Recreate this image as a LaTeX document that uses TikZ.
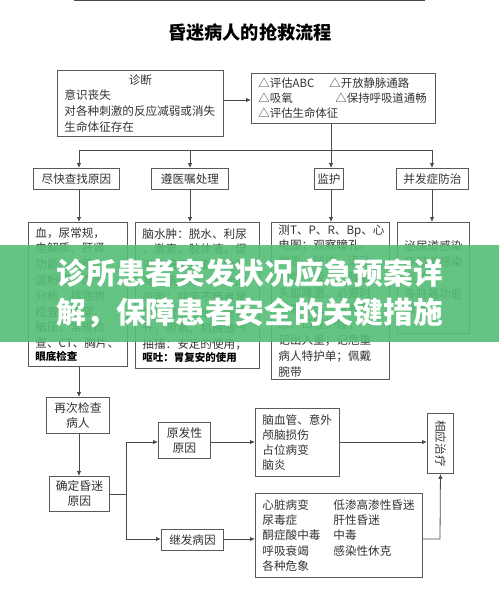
\documentclass[tikz,border=0pt]{standalone}
\usepackage{fontspec}
\usepackage{graphicx}
\usetikzlibrary{arrows.meta}
\newfontfamily\cjk{Noto Sans CJK SC}
\definecolor{linegray}{HTML}{4A4A4A}
\definecolor{boxgray}{HTML}{5A5A5A}
\definecolor{txt}{HTML}{333333}
\definecolor{bannergreen}{HTML}{55BE76}
\tikzset{
  bx/.style={draw=boxgray, line width=0.9pt, fill=white, inner xsep=7pt, inner ysep=0pt,
    text=txt, font=\cjk\fontsize{11.6}{15.8}\selectfont, anchor=north west},
  ln/.style={draw=linegray, line width=0.8pt},
  ar/.style={draw=linegray, line width=0.8pt, -{Latex[length=5pt,width=4.5pt]}},
}
\begin{document}
\begin{tikzpicture}[x=1pt,y=-1pt]
\useasboundingbox (0,0) rectangle (499,589);
\fill[white] (0,0) rectangle (499,589);
\draw[linegray, line width=1.4pt] (74,0.7) -- (425,0.7);

\node[font=\cjk\bfseries\fontsize{18.2}{20}\selectfont, text=black] (title) at (250,33) {昏迷病人的抢救流程};

% top row
\node[bx, minimum width=166pt, minimum height=66pt, text width=152pt, align=left, inner xsep=7pt] (diag) at (57,70)
  {\makebox[152pt]{诊断}\\意识丧失\\对各种刺激的反应减弱或消失\\生命体征存在};
\node[bx, minimum width=184pt, minimum height=50pt, text width=170pt, align=left, font=\cjk\fontsize{11.4}{15}\selectfont] (eval) at (251,73)
  {\makebox[71pt][l]{△评估ABC}△开放静脉通路\\\makebox[77pt][l]{△吸氧}△保持呼吸道通畅\\△评估生命体征};

% second row
\node[bx, minimum width=86pt, minimum height=21pt, align=center] (find) at (33,168) {尽快查找原因};
\node[bx, minimum width=77pt, minimum height=21pt, align=center] (follow) at (151,168) {遵医嘱处理};
\node[bx, minimum width=29pt, minimum height=21pt, inner xsep=0pt, align=center] (monitor) at (314,168) {监护};
\node[bx, minimum width=72pt, minimum height=21pt, inner xsep=0pt, align=center] (comp) at (396,168) {并发症防治};

% third row
\node[bx, minimum width=99pt, minimum height=144pt, text width=85pt, align=left] (b1) at (28,222)
  {血，尿常规，\\电解质、肝肾\\功能、血糖、\\淀粉酶、血气\\分析、排泄物\\检查、腰穿、\\脑压、常规检\\查、CT、胸片、\\[-3pt]{\fontsize{10.5}{12}\selectfont\bfseries\color{black}眼底检查}};
\node[bx, minimum width=124pt, minimum height=146pt, text width=110pt, align=left] (b2) at (135,222)
  {脑水肿：脱水、利尿\\、激素、胶体液，促\\进脑细胞代谢药物及\\高压氧治疗，激素的\\应用；呼吸不畅者早\\期气管插管或气管切\\开，吸氧、机械通气\\抽搐：安定的使用；\\[-3pt]{\fontsize{10.5}{12}\selectfont\bfseries\color{black}呕吐：胃复安的使用}};
\node[bx, minimum width=118pt, minimum height=157pt, text width=104pt, align=left] (b3) at (271,222)
  {测T、P、R、Bp、心\\电图；观察瞳孔、\\神志、肢体、运动\\功能；吸痰、吸氧；\\头部降温、必要时\\冬眠疗法；留置导\\尿、口腔护理；\\记出入量；记危重\\病人特护单；佩戴\\腕带};
\node[bx, minimum width=72pt, minimum height=111pt, text width=58pt, align=left, anchor=north west] (b4) at (397,222)
  {泌尿道感染\\呼吸道感染\\压疮\\多脏器功能\\衰竭\\[36pt]};

% lower left
\node[bx, minimum width=63pt, minimum height=36pt, inner xsep=0pt, align=center, font=\cjk\fontsize{11.8}{15}\selectfont] (recheck) at (46,397) {再次检查\\病人};
\node[bx, minimum width=60pt, minimum height=35pt, inner xsep=0pt, align=center, font=\cjk\fontsize{11.8}{15}\selectfont] (confirm) at (49,476) {确定昏迷\\原因};
\node[bx, minimum width=52pt, minimum height=36pt, inner xsep=0pt, align=center, font=\cjk\fontsize{11.8}{15}\selectfont] (primary) at (158,422) {原发性\\原因};
\node[bx, minimum width=62pt, minimum height=21pt, inner xsep=0pt, align=center] (secondary) at (161,529) {继发病因};

% lower right
\node[bx, minimum width=84pt, minimum height=68pt, text width=70pt, align=left, font=\cjk\fontsize{11.6}{15}\selectfont] (causes1) at (255,408)
  {脑血管、意外\\颅脑损伤\\占位病变\\脑炎};
\node[bx, minimum width=167pt, minimum height=84pt, text width=153pt, align=left, font=\cjk\fontsize{11.6}{15.2}\selectfont] (causes2) at (255,493)
  {\makebox[71pt][l]{心脏病变}低渗高渗性昏迷\\\makebox[71pt][l]{尿毒症}肝性昏迷\\\makebox[71pt][l]{酮症酸中毒}中毒\\\makebox[71pt][l]{呼吸衰竭}感染性休克\\各种危象};
\node[bx, minimum width=26pt, minimum height=60pt, inner xsep=0pt, align=center] (treat) at (427,413) {\rotatebox{-90}{相应治疗}};

% connectors
\coordinate (jD) at (230,100);
\coordinate (jL) at (79,150);
\coordinate (jF) at (190,150);
\coordinate (j0) at (331,150);
\coordinate (jR) at (432,150);
\coordinate (jB) at (126,494);
\coordinate (jP) at (126,442);
\coordinate (jS) at (126,539);
\coordinate (jT) at (440,539);

\draw[ar] (jD -| diag.east) -- (jD -| eval.west);
\draw[ln] (j0 |- eval.south) -- (j0);
\draw[ln] (jL) -- (jR);
\draw[ar] (jL) -- (jL |- find.north);
\draw[ar] (jF) -- (jF |- follow.north);
\draw[ar] (j0) -- (j0 |- monitor.north);
\draw[ar] (jR) -- (jR |- comp.north);
\draw[ar] (jL |- find.south) -- (jL |- b1.north);
\draw[ar] (jF |- follow.south) -- (jF |- b2.north);
\draw[ar] (j0 |- monitor.south) -- (j0 |- b3.north);
\draw[ar] (jR |- comp.south) -- (jR |- b4.north);
\draw[ar] (jL |- b1.south) -- (jL |- recheck.north);
\draw[ar] (jL |- recheck.south) -- (jL |- confirm.north);
\draw[ln] (jB -| confirm.east) -- (jB);
\draw[ln] (jP) -- (jS);
\draw[ar] (jP) -- (jP -| primary.west);
\draw[ar] (jS) -- (jS -| secondary.west);
\draw[ar] (jP -| primary.east) -- (jP -| causes1.west);
\draw[ar] (jS -| secondary.east) -- (jS -| causes2.west);
\draw[ar] (jP -| causes1.east) -- (jP -| treat.west);
\draw[ar] (jS -| causes2.east) -- (jT) -- (treat.south);

% banner
\node[fill=bannergreen, fill opacity=0.9, text opacity=1, text=white, inner sep=0pt,
  minimum width=499pt, minimum height=97pt, anchor=north west, align=center,
  font=\cjk\bfseries\fontsize{29.7}{39}\selectfont] (banner) at (0,245)
  {诊所患者突发状况应急预案详\\解，保障患者安全的关键措施};
\end{tikzpicture}
\end{document}
